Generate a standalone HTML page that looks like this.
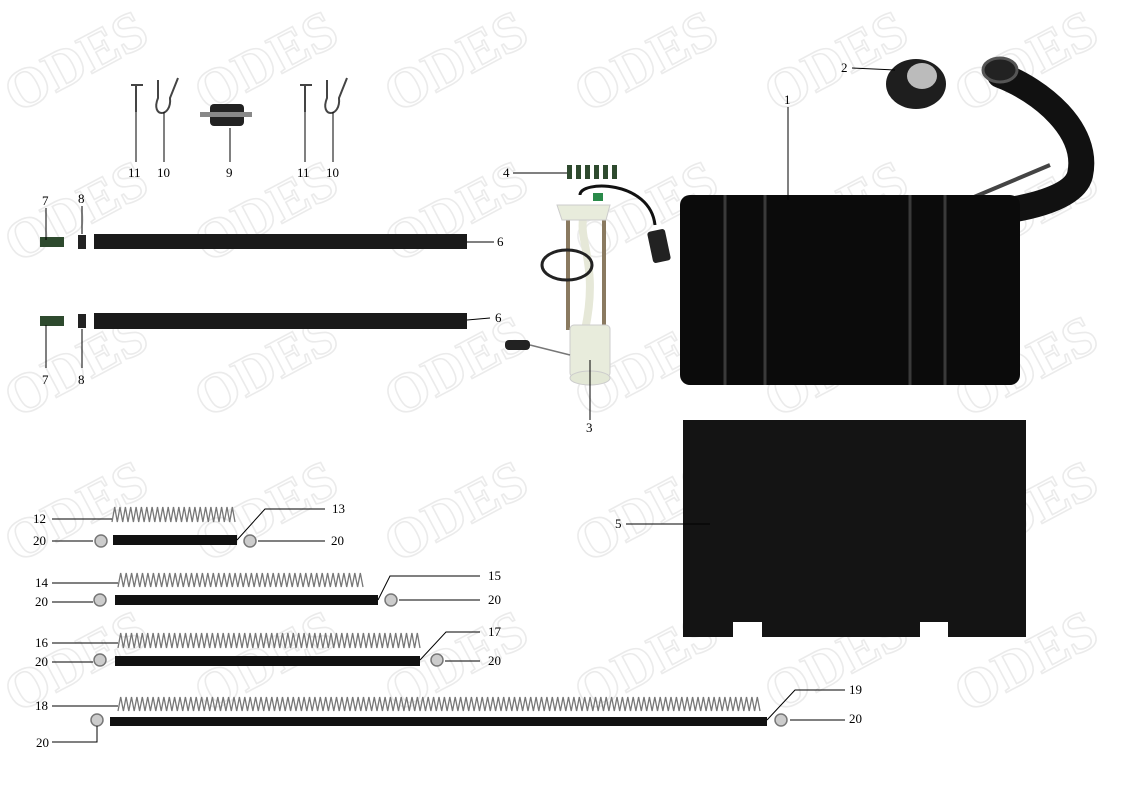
<!DOCTYPE html>
<html><head><meta charset="utf-8"><style>
html,body{margin:0;padding:0;background:#fff;width:1124px;height:794px;overflow:hidden;}
svg{display:block;}
text{font-family:"Liberation Serif",serif;font-size:13px;fill:#000;}
.wm{font-family:"Liberation Serif",serif;font-size:56px;font-weight:bold;fill:none;stroke:#ebebeb;stroke-width:1.6;}
</style></head><body>
<svg id="s" width="1124" height="794" viewBox="0 0 1124 794" xmlns="http://www.w3.org/2000/svg">
<g id="wm"></g>
<!-- tank -->
<path d="M1000,75 C1040,90 1090,130 1080,175 C1075,195 1040,205 1010,210" stroke="#111" stroke-width="26" fill="none" stroke-linecap="round"/>
<ellipse cx="1000" cy="70" rx="17" ry="12" fill="#222" stroke="#555" stroke-width="3"/>
<line x1="955" y1="205" x2="1050" y2="165" stroke="#444" stroke-width="4"/>
<rect x="680" y="195" width="340" height="190" rx="10" fill="#0b0b0b"/>
<g stroke="#3a3a3a" stroke-width="3"><line x1="725" y1="195" x2="725" y2="385"/><line x1="765" y1="195" x2="765" y2="385"/><line x1="910" y1="195" x2="910" y2="385"/><line x1="945" y1="195" x2="945" y2="385"/></g>
<!-- cap -->
<ellipse cx="916" cy="84" rx="30" ry="25" fill="#1e1e1e"/>
<ellipse cx="922" cy="76" rx="15" ry="13" fill="#bbb"/>
<!-- plate -->
<path d="M683,420 H1026 V637 H948 V622 H920 V637 H762 V622 H733 V637 H683 Z" fill="#141414"/>
<!-- hoses 6 -->
<rect x="94" y="234" width="373" height="15" fill="#1a1a1a"/>
<rect x="94" y="313" width="373" height="16" fill="#1a1a1a"/>
<rect x="40" y="237" width="24" height="10" fill="#2e4a2e"/><rect x="40" y="316" width="24" height="10" fill="#2e4a2e"/>
<rect x="78" y="235" width="8" height="14" fill="#222"/><rect x="78" y="314" width="8" height="14" fill="#222"/>
<!-- top small parts -->
<g stroke="#444" stroke-width="2" fill="none">
<line x1="136" y1="85" x2="136" y2="112"/><line x1="131" y1="85" x2="143" y2="85"/>
<line x1="305" y1="85" x2="305" y2="112"/><line x1="300" y1="85" x2="312" y2="85"/>
<path d="M158,80 L158,98 C150,118 172,118 170,98 L178,78"/>
<path d="M327,80 L327,98 C319,118 341,118 339,98 L347,78"/>
</g>
<rect x="210" y="104" width="34" height="22" rx="4" fill="#222"/><rect x="200" y="112" width="52" height="5" fill="#888"/>
<!-- fuel pump -->
<g>
<rect x="566" y="205" width="4" height="125" fill="#8a7a60"/><rect x="602" y="205" width="4" height="125" fill="#8a7a60"/>
<path d="M585,210 C575,240 600,260 585,330" stroke="#e6e8d8" stroke-width="8" fill="none"/>
<ellipse cx="567" cy="265" rx="25" ry="15" fill="none" stroke="#222" stroke-width="3"/>
<path d="M580,195 C580,180 650,180 655,225" stroke="#111" stroke-width="3" fill="none"/>
<rect x="650" y="230" width="18" height="32" rx="3" fill="#222" transform="rotate(-12 659 246)"/>
<path d="M557,205 H610 L606,220 H562 Z" fill="#e8ecdc" stroke="#ccc"/>
<rect x="593" y="193" width="10" height="8" fill="#2a8a4a"/>
<rect x="570" y="325" width="40" height="52" rx="4" fill="#e8ecdc" stroke="#ccc"/>
<ellipse cx="590" cy="378" rx="20" ry="7" fill="#e3e8d6" stroke="#ccc"/>
<line x1="570" y1="355" x2="530" y2="345" stroke="#777" stroke-width="1.5"/>
<rect x="505" y="340" width="25" height="10" rx="4" fill="#222"/>
</g>
<g fill="#2e4a2e"><rect x="567" y="165" width="5" height="14"/><rect x="576" y="165" width="5" height="14"/><rect x="585" y="165" width="5" height="14"/><rect x="594" y="165" width="5" height="14"/><rect x="603" y="165" width="5" height="14"/><rect x="612" y="165" width="5" height="14"/></g>
<!-- lower hoses -->
<g fill="#111">
<rect x="113" y="535" width="124" height="10"/>
<rect x="115" y="595" width="263" height="10"/>
<rect x="115" y="656" width="305" height="10"/>
<rect x="110" y="717" width="657" height="9"/>
</g>
<g id="springs" stroke="#777" stroke-width="1.3" fill="none"></g>
<g fill="#ccc" stroke="#777" stroke-width="1.5" id="clamps"></g>
<!-- leader lines -->
<g stroke="#000" stroke-width="1" fill="none">
<line x1="788" y1="107" x2="788" y2="200"/>
<line x1="852" y1="68" x2="895" y2="70"/>
<line x1="513" y1="173" x2="567" y2="173"/>
<line x1="590" y1="360" x2="590" y2="420"/>
<line x1="626" y1="524" x2="710" y2="524"/>
<line x1="467" y1="242" x2="494" y2="242"/><line x1="467" y1="320" x2="490" y2="318"/>
<line x1="46" y1="208" x2="46" y2="240"/><line x1="46" y1="325" x2="46" y2="368"/>
<line x1="82" y1="206" x2="82" y2="234"/><line x1="82" y1="329" x2="82" y2="368"/>
<line x1="136" y1="112" x2="136" y2="162"/><line x1="164" y1="112" x2="164" y2="162"/><line x1="230" y1="128" x2="230" y2="162"/><line x1="305" y1="112" x2="305" y2="162"/><line x1="333" y1="112" x2="333" y2="162"/>
<line x1="52" y1="519" x2="112" y2="519"/><line x1="52" y1="541" x2="93" y2="541"/><line x1="258" y1="541" x2="325" y2="541"/><polyline points="237,540 265,509 325,509"/>
<line x1="52" y1="583" x2="118" y2="583"/><line x1="52" y1="602" x2="93" y2="602"/><line x1="399" y1="600" x2="480" y2="600"/><polyline points="378,600 390,576 480,576"/>
<line x1="52" y1="643" x2="118" y2="643"/><line x1="52" y1="662" x2="93" y2="662"/><line x1="445" y1="661" x2="480" y2="661"/><polyline points="420,660 446,632 480,632"/>
<line x1="52" y1="706" x2="118" y2="706"/><polyline points="52,742 97,742 97,726"/><line x1="790" y1="720" x2="845" y2="720"/><polyline points="767,720 795,690 845,690"/>
</g>
<g>
<text x="784" y="104">1</text><text x="841" y="72">2</text><text x="503" y="177">4</text><text x="586" y="432">3</text><text x="615" y="528">5</text>
<text x="497" y="246">6</text><text x="495" y="322">6</text>
<text x="42" y="205">7</text><text x="42" y="384">7</text><text x="78" y="203">8</text><text x="78" y="384">8</text>
<text x="128" y="177">11</text><text x="157" y="177">10</text><text x="226" y="177">9</text><text x="297" y="177">11</text><text x="326" y="177">10</text>
<text x="33" y="523">12</text><text x="332" y="513">13</text><text x="33" y="545">20</text><text x="331" y="545">20</text>
<text x="35" y="587">14</text><text x="488" y="580">15</text><text x="35" y="606">20</text><text x="488" y="604">20</text>
<text x="35" y="647">16</text><text x="488" y="636">17</text><text x="35" y="666">20</text><text x="488" y="665">20</text>
<text x="35" y="710">18</text><text x="849" y="694">19</text><text x="36" y="747">20</text><text x="849" y="723">20</text>
</g>
</svg>
<script>
var NS="http://www.w3.org/2000/svg";
function sp(x1,x2,y1,y2){var p="M"+x1+","+y2,n=Math.round((x2-x1)/5.4);for(var i=0;i<n;i++){var x=x1+(i+0.5)*(x2-x1)/n;p+=" L"+x.toFixed(1)+","+y1+" L"+(x1+(i+1)*(x2-x1)/n).toFixed(1)+","+y2;}var e=document.createElementNS(NS,"path");e.setAttribute("d",p);document.getElementById("springs").appendChild(e);}
sp(112,235,507,522);sp(118,363,573,587);sp(118,420,633,648);sp(118,760,697,711);
[[101,541],[250,541],[100,600],[391,600],[100,660],[437,660],[97,720],[781,720]].forEach(function(c){var e=document.createElementNS(NS,"circle");e.setAttribute("cx",c[0]);e.setAttribute("cy",c[1]);e.setAttribute("r",6);document.getElementById("clamps").appendChild(e);});
var g=document.getElementById("wm");
var xs=[75,265,455,645,835,1025],ys=[80,230,385,530,680];
ys.forEach(function(y){xs.forEach(function(x){var t=document.createElementNS(NS,"text");t.setAttribute("class","wm");t.setAttribute("x",x);t.setAttribute("y",y);t.setAttribute("text-anchor","middle");t.setAttribute("transform","rotate(-28 "+x+" "+(y-20)+")");t.textContent="ODES";g.appendChild(t);});});
</script>
</body></html>
